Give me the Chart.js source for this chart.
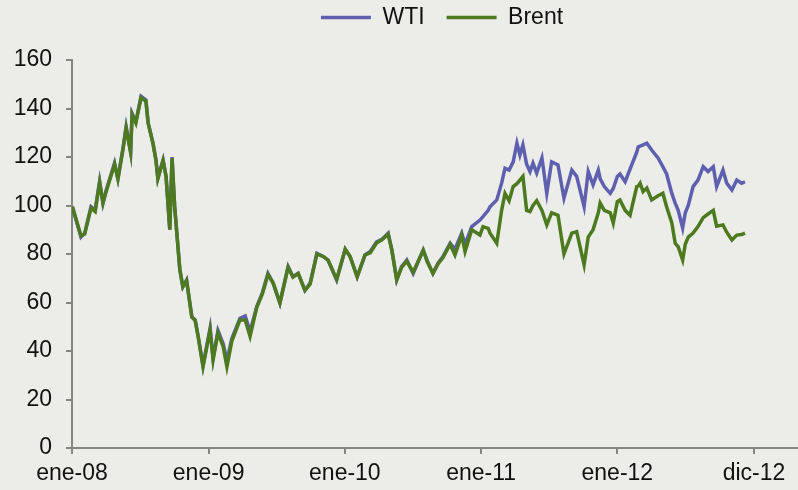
<!DOCTYPE html>
<html>
<head>
<meta charset="utf-8">
<script src="https://cdn.jsdelivr.net/npm/chart.js@4.4.1/dist/chart.umd.min.js"></script>
<style>
  html, body { margin: 0; padding: 0; background: #ecece9; }
  #wrap { width: 798px; height: 490px; position: relative; }
</style>
</head>
<body>
<div id="wrap"><canvas id="c"></canvas></div>
<script>
// Observation dates (price samples, 2008-2012)
const dates = [
  '2008-01-02','2008-01-25','2008-02-04','2008-02-21','2008-03-03','2008-03-15','2008-03-24','2008-04-01',
  '2008-04-24','2008-05-03','2008-05-17','2008-05-25','2008-06-06','2008-06-10','2008-06-20','2008-07-04',
  '2008-07-17','2008-07-23','2008-08-05','2008-08-13','2008-08-18','2008-09-01','2008-09-09','2008-09-19',
  '2008-09-25','2008-10-02','2008-10-16','2008-10-24','2008-11-03','2008-11-17','2008-11-26','2008-12-04',
  '2008-12-17','2009-01-05','2009-01-13','2009-01-26','2009-02-09','2009-02-19','2009-03-04','2009-03-26',
  '2009-04-09','2009-04-22','2009-05-10','2009-05-25','2009-06-09','2009-06-23','2009-07-11','2009-08-02',
  '2009-08-15','2009-08-29','2009-09-16','2009-09-30','2009-10-18','2009-11-04','2009-11-17','2009-12-10',
  '2010-01-02','2010-01-15','2010-02-03','2010-02-24','2010-03-10','2010-03-27','2010-04-10','2010-04-27',
  '2010-05-07','2010-05-20','2010-06-02','2010-06-16','2010-07-03','2010-07-30','2010-08-10','2010-08-25',
  '2010-09-08','2010-09-21','2010-10-10','2010-10-23','2010-11-10','2010-11-19','2010-12-07','2010-12-29',
  '2011-01-06','2011-01-20','2011-01-25','2011-02-12','2011-02-25','2011-03-06','2011-03-17','2011-03-28',
  '2011-04-07','2011-04-15','2011-04-23','2011-05-03','2011-05-12','2011-05-20','2011-05-30','2011-06-13',
  '2011-06-26','2011-07-09','2011-07-26','2011-08-11','2011-09-01','2011-09-14','2011-10-04','2011-10-15',
  '2011-10-28','2011-11-11','2011-11-16','2011-11-27','2011-12-13','2011-12-21',
  '2012-01-01','2012-01-08','2012-01-22','2012-02-04','2012-02-22','2012-02-26','2012-03-02','2012-03-10',
  '2012-03-20','2012-04-02','2012-04-19','2012-05-02','2012-05-12','2012-05-26','2012-06-04','2012-06-12',
  '2012-06-24','2012-07-01','2012-07-09','2012-07-22','2012-08-04','2012-08-18','2012-08-31','2012-09-14',
  '2012-09-23','2012-10-10','2012-10-20','2012-11-03','2012-11-16','2012-11-29','2012-12-08'
];

// WTI, USD per barrel
const wti = [
  99.5, 87, 88.6, 99.5, 98, 110, 101, 106,
  117.5, 111, 124, 132.5, 122, 138, 134.5, 145,
  143.5, 134, 125.7, 118.8, 111.3, 118.8, 112, 90,
  120, 99.5, 73.4, 66.5, 69.3, 54, 52.8, 46,
  34, 49.5, 37, 48.5, 43, 36, 45, 53.5,
  54.5, 48, 58.3, 64, 72, 68, 59.8, 74.8,
  70.6, 72, 65, 68, 80.3, 79, 77.5, 69.3,
  82, 79, 70.6, 79.6, 81, 85, 86, 88.6,
  81.6, 69.3, 74.8, 77.5, 72, 81.6, 77, 72,
  76.3, 79, 84.4, 82, 88.6, 84, 91.3, 94,
  95.4, 98, 99.5, 102.3, 109.2, 115.4, 114.6, 118,
  125.7, 120.8, 125, 117, 114, 117.5, 113.4, 119.6,
  105, 118, 116.7, 103, 114.6, 112, 99.5, 114,
  108.5, 114.6, 111, 107.8, 105, 107,
  112, 113, 109.8, 115, 122, 124.2, 124.5, 125,
  125.7, 122.9, 119.6, 116, 113, 105, 101, 98,
  90.7, 97, 100, 107.8, 110.5, 116, 114, 116,
  107.8, 114.6, 109.2, 106.4, 110.5, 109.2, 109.8
];

// Brent, USD per barrel
const brent = [
  99.5, 87.5, 88.2, 99, 97.5, 109.5, 101, 105.5,
  117, 111, 123.5, 132, 122, 137.5, 134, 144.5,
  143, 134, 125.5, 118.5, 111, 118.5, 112, 90,
  119.5, 99.5, 73.4, 66.5, 69, 54, 52.5, 46,
  33.5, 48.7, 36.3, 47.4, 41.8, 33.5, 44, 52.8,
  52.8, 46, 58, 63.5, 71.5, 68, 59.8, 74.5,
  70.5, 72, 65, 67.5, 80, 79, 77.5, 69.5,
  82, 79, 70.6, 79.6, 80.5, 84.5, 85.8, 88.2,
  81.5, 69.3, 74.5, 77, 72.5, 81.6, 76.8, 72,
  76, 78.5, 84, 79.6, 87.8, 81, 90, 87.8,
  91.3, 90.6, 88.6, 84.4, 98, 105, 102, 107.8,
  109, 110.5, 112, 98, 97.5, 100, 102, 98,
  92, 97, 96, 80, 88.6, 89.2, 75.5, 87,
  90, 97, 101, 98, 97, 92.8,
  101.6, 102.3, 98, 96, 107.8, 108, 109.2, 105.7,
  107.2, 102.3, 104, 105, 99.5, 92.8, 84.4, 83,
  77.5, 84, 87, 88.6, 91.3, 95, 96.5, 98,
  91.5, 92, 89, 85.8, 87.8, 88, 88.6
];

// Axis ticks
const yTicks = [0, 20, 40, 60, 80, 100, 120, 140, 160];
const xTickDates = ['2008-01-01', '2009-01-01', '2010-01-01', '2011-01-01', '2012-01-01', '2013-01-01'];
const xTickLabels = ['ene-08', 'ene-09', 'ene-10', 'ene-11', 'ene-12', 'dic-12'];

const DAY0 = Date.parse('2008-01-01T00:00:00Z');
const toDay = s => (Date.parse(s + 'T00:00:00Z') - DAY0) / 864e5;
const xs = dates.map(toDay);
const asPoints = arr => arr.map((v, i) => ({ x: xs[i], y: v }));

const TEXT = '#111111';
const AXIS = '#858585';
const FONT = { family: "'Liberation Sans', Arial, sans-serif", size: 23 };

// Legend placement: fixed height band above the plot, nudged right
const legendPlace = {
  id: 'legendPlace',
  beforeLayout(chart) {
    const lg = chart.legend;
    if (lg && !lg._fixed) {
      const fit = lg.fit;
      lg.fit = function () { fit.call(this); this.height = 60; };
      lg._fixed = true;
    }
  },
  afterLayout(chart) {
    const lg = chart.legend;
    lg.left += 43; lg.right += 43;
    lg.top -= 16; lg.bottom -= 16;
  }
};

new Chart(document.getElementById('c'), {
  type: 'line',
  data: {
    datasets: [
      {
        label: 'WTI',
        data: asPoints(wti),
        borderColor: '#5e5fae',
        backgroundColor: '#5e5fae',
        borderWidth: 3.5,
        pointRadius: 0,
        tension: 0,
        order: 1
      },
      {
        label: 'Brent',
        data: asPoints(brent),
        borderColor: '#4d7a1f',
        backgroundColor: '#4d7a1f',
        borderWidth: 3.5,
        pointRadius: 0,
        tension: 0,
        order: 0
      }
    ]
  },
  options: {
    responsive: true,
    maintainAspectRatio: false,
    devicePixelRatio: 1,
    animation: false,
    layout: { padding: 0 },
    plugins: {
      tooltip: { enabled: false },
      legend: {
        position: 'top',
        align: 'center',
        labels: {
          usePointStyle: true,
          pointStyle: 'line',
          pointStyleWidth: 50,
          padding: 22,
          color: TEXT,
          font: FONT,
          sort: (a, b) => a.datasetIndex - b.datasetIndex
        }
      }
    },
    scales: {
      x: {
        type: 'linear',
        min: 0,
        max: 1945,
        afterBuildTicks: s => { s.ticks = xTickDates.map(d => ({ value: toDay(d) })); },
        afterFit: s => { s.height = 42; },
        ticks: {
          autoSkip: false,
          maxRotation: 0,
          padding: 6,
          color: TEXT,
          font: FONT,
          callback: (v, i) => xTickLabels[i]
        },
        grid: { drawOnChartArea: false, drawTicks: true, tickLength: 6, color: AXIS, lineWidth: 2 },
        border: { display: true, color: AXIS, width: 2 }
      },
      y: {
        min: 0,
        max: 160,
        afterBuildTicks: s => { s.ticks = yTicks.map(v => ({ value: v })); },
        afterFit: s => { s.width = 72; },
        ticks: { padding: 14, color: TEXT, font: FONT },
        grid: { drawOnChartArea: false, drawTicks: true, tickLength: 6, color: AXIS, lineWidth: 2 },
        border: { display: true, color: AXIS, width: 2 }
      }
    }
  },
  plugins: [legendPlace]
});
</script>
</body>
</html>
